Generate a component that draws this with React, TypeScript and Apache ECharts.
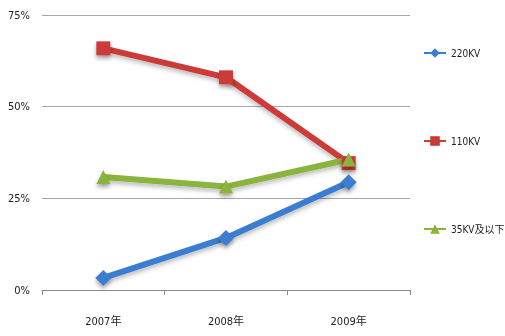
import React, { useEffect, useRef } from "react";
import * as echarts from "echarts";

const categories = ["2007年", "2008年", "2009年"];
const s220 = [3.3, 14.2, 29.4];
const s110 = [65.9, 58.0, 34.6];
const s35 = [30.8, 28.2, 35.6];
const yTicks = [0, 25, 50, 75];

const FONT = "'DejaVu Sans Condensed', 'Liberation Sans Narrow', 'Noto Sans CJK SC', sans-serif";

export default function App() {
  const ref = useRef<HTMLDivElement>(null);
  useEffect(() => {
    const chart = echarts.init(ref.current!, null, { renderer: "svg" });
    const mk = (name: string, data: number[], color: string, symbol: string, size: number) => ({
      name,
      type: "line",
      data,
      symbol,
      symbolSize: size,
      lineStyle: { width: 6, color, shadowColor: "rgba(0,0,0,0.25)", shadowBlur: 4, shadowOffsetY: 3 },
      itemStyle: { color, shadowColor: "rgba(0,0,0,0.35)", shadowBlur: 4, shadowOffsetY: 3 },
    });
    chart.setOption({
      animation: false,
      textStyle: { fontFamily: FONT },
      grid: { left: 42, right: 95, top: 15, bottom: 46, containLabel: false },
      legend: {
        orient: "vertical",
        left: 418,
        top: 43,
        itemGap: 78,
        itemWidth: 22,
        itemHeight: 12,
        itemTextGap: 3,
        textStyle: { fontFamily: FONT, fontSize: 10, color: "#222" },
        data: ["220KV", "110KV", "35KV及以下"],
      },
      xAxis: {
        type: "category",
        data: categories,
        boundaryGap: true,
        axisLine: { lineStyle: { color: "#8c8c8c" } },
        axisTick: { show: true, length: 5, lineStyle: { color: "#8c8c8c" } },
        axisLabel: { margin: 26, fontSize: 11, color: "#222", fontFamily: FONT },
      },
      yAxis: {
        type: "value",
        min: yTicks[0],
        max: yTicks[yTicks.length - 1],
        interval: 25,
        axisLine: { show: false },
        axisTick: { show: false },
        axisLabel: { formatter: "{value}%", margin: 12, fontSize: 11, color: "#222", fontFamily: FONT },
        splitLine: { lineStyle: { color: "#a6a6a6", width: 1 } },
      },
      series: [
        mk("220KV", s220, "#3b7dd0", "diamond", 16),
        mk("110KV", s110, "#cc3a38", "rect", 14),
        mk("35KV及以下", s35, "#8ab43c", "triangle", 14),
      ],
    });
    return () => chart.dispose();
  }, []);
  return <div ref={ref} style={{ position: "fixed", left: 0, top: 0, width: 505, height: 336 }} />;
}
